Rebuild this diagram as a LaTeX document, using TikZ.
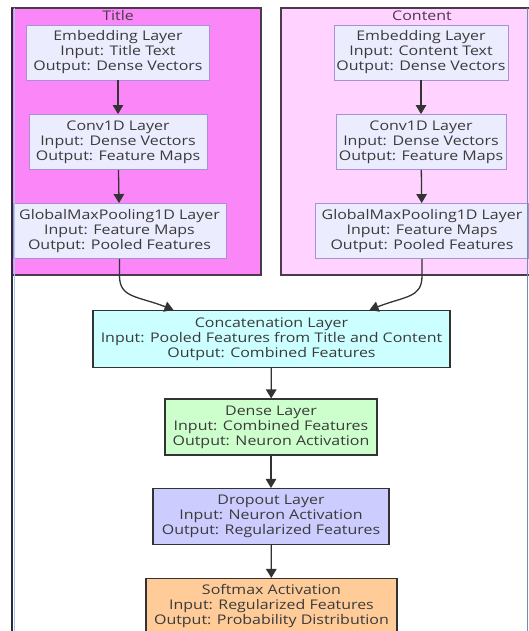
\documentclass[tikz,border=0pt]{standalone}
\usepackage{fontspec}
\setmainfont{Open Sans}[FakeStretch=1.2]
\usetikzlibrary{arrows.meta}
\definecolor{titlefill}{HTML}{FA86F8}
\definecolor{contentfill}{HTML}{FFD2FF}
\definecolor{clusterborder}{HTML}{4A3A4A}
\definecolor{nodefill}{HTML}{ECECFF}
\definecolor{nodeborder}{HTML}{A98FD8}
\definecolor{textc}{HTML}{3A3A3A}
\definecolor{arrowc}{HTML}{333333}
\definecolor{concatfill}{HTML}{CCFFFF}
\definecolor{densefill}{HTML}{CCFFCC}
\definecolor{dropfill}{HTML}{CCCCFF}
\definecolor{softfill}{HTML}{FFCC99}
\definecolor{framedark}{HTML}{2A2A3A}
\definecolor{framelight}{HTML}{A8C8F0}
\definecolor{frameright}{HTML}{6F8FB0}
\begin{document}
\begin{tikzpicture}[x=1pt,y=-1pt,
  layerbox/.style={rectangle, draw=nodeborder, fill=nodefill, line width=0.9pt,
    align=center, inner sep=0pt, text=textc, minimum height=55pt,
    font=\fontsize{13.3}{15}\selectfont},
  darkbox/.style={layerbox, draw=arrowc, line width=1.1pt},
  clusterlabel/.style={text=clusterborder, font=\fontsize{13.3}{15}\selectfont},
  arr/.style={draw=arrowc, line width=1.3pt, -{Triangle[length=9pt,width=10.5pt]}}
]
\useasboundingbox (0,0) rectangle (529,631);
\fill[white] (0,0) rectangle (529,631);
% clusters
\draw[clusterborder, fill=titlefill, line width=1.2pt] (12,8) rectangle (261,275);
\draw[clusterborder, fill=contentfill, line width=1.2pt] (281,8) rectangle (540,275);
\node[clusterlabel] (tl) at (118,15.5) {Title};
\node[clusterlabel] (cl) at (422,15.5) {Content};
% title nodes
\node[layerbox, minimum width=183pt] (te) at (118,52.5) {Embedding Layer\\Input: Title Text\\Output: Dense Vectors};
\node[layerbox, minimum width=178pt] (tc) at (118,142) {Conv1D Layer\\Input: Dense Vectors\\Output: Feature Maps};
\node[layerbox, minimum width=213pt] (tg) at (119.5,231) {GlobalMaxPooling1D Layer\\Input: Feature Maps\\Output: Pooled Features};
% content nodes
\node[layerbox, minimum width=174pt] (ce) at (421,52.5) {Embedding Layer\\Input: Content Text\\Output: Dense Vectors};
\node[layerbox, minimum width=170pt] (cc) at (421,142) {Conv1D Layer\\Input: Dense Vectors\\Output: Feature Maps};
\node[layerbox, minimum width=213pt] (cg) at (422,231) {GlobalMaxPooling1D Layer\\Input: Feature Maps\\Output: Pooled Features};
% lower nodes
\node[darkbox, fill=concatfill, minimum width=357pt, minimum height=57pt] (cat) at (271.5,339) {Concatenation Layer\\Input: Pooled Features from Title and Content\\Output: Combined Features};
\node[darkbox, fill=densefill, minimum width=212pt, minimum height=56pt] (den) at (271,427) {Dense Layer\\Input: Combined Features\\Output: Neuron Activation};
\node[darkbox, fill=dropfill, minimum width=236pt, minimum height=56pt] (drp) at (271,516.5) {Dropout Layer\\Input: Neuron Activation\\Output: Regularized Features};
\node[darkbox, fill=softfill, minimum width=251pt, minimum height=56pt] (sm) at (271.5,606.5) {Softmax Activation\\Input: Regularized Features\\Output: Probability Distribution};
% arrows
\draw[arr] (te) -- (tc);
\draw[arr] (tc) -- (tg);
\draw[arr] (ce) -- (cc);
\draw[arr] (cc) -- (cg);
\draw[arr] (tg.south) -- ++(0,17) .. controls +(0,22) and +(-36,-14) .. ([xshift=-98pt]cat.north);
\draw[arr] (cg.south) -- ++(0,17) .. controls +(0,22) and +(36,-14) .. ([xshift=98pt]cat.north);
\draw[arr] (cat) -- (den);
\draw[arr] (den) -- (drp);
\draw[arr] (drp) -- (sm);
% window frame
\draw[framelight, line width=1.3pt] (14.2,8) -- (14.2,631);
\draw[framedark, line width=1.4pt] (12,8) -- (12,631);
\draw[frameright, line width=1.3pt] (527.5,8) -- (527.5,631);
\end{tikzpicture}
\end{document}
